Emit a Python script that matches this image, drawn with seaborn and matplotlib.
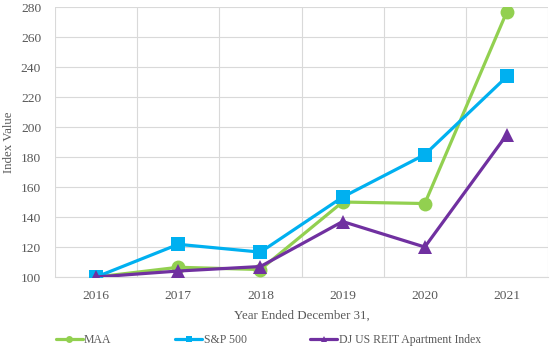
import matplotlib
matplotlib.use("Agg")
import matplotlib.pyplot as plt
import seaborn as sns
import pandas as pd
from matplotlib.lines import Line2D

years = ["2016", "2017", "2018", "2019", "2020", "2021"]
maa = [100, 106.5, 105, 150, 149, 277]
sp500 = [100, 121.8, 116.6, 153.3, 181.6, 233.7]
djreit = [100, 104, 107, 137, 120, 195]
series_names = ["MAA", "S&P 500", "DJ US REIT Apartment Index"]
colors = ["#92D050", "#00B0F0", "#7030A0"]
markers = ["o", "s", "^"]
yticks = [100, 120, 140, 160, 180, 200, 220, 240, 260, 280]

sns.set_style("white")
plt.rcParams["font.family"] = ["Liberation Serif", "DejaVu Serif"]
text_color = "#595959"

rows = []
for name, vals in zip(series_names, [maa, sp500, djreit]):
    for i, (y, v) in enumerate(zip(years, vals)):
        rows.append({"pos": i, "year": y, "value": v, "series": name})
df = pd.DataFrame(rows)

fig = plt.figure(figsize=(5.53, 3.52), dpi=100)
ax = fig.add_axes([0.0995, 0.213, 0.8915, 0.767])

msizes = {"MAA": 10, "S&P 500": 9.5, "DJ US REIT Apartment Index": 10}
for name, c, m in zip(series_names, colors, markers):
    sub = df[df.series == name]
    sns.lineplot(data=sub, x="pos", y="value", ax=ax, color=c, marker=m,
                 markersize=msizes[name], markeredgewidth=0, linewidth=2.3,
                 legend=False, zorder=3)

ax.set_xlim(-0.5, 5.5)
ax.set_ylim(100, 280)
ax.set_yticks(yticks)
ax.set_xticks(range(len(years)))
ax.set_xticklabels(years)
ax.set_xticks([i - 0.5 for i in range(len(years) + 1)], minor=True)
ax.grid(True, axis="y", which="major", color="#D9D9D9", linewidth=0.8)
ax.grid(True, axis="x", which="minor", color="#D9D9D9", linewidth=0.8)
ax.grid(False, axis="x", which="major")
ax.tick_params(axis="both", which="both", length=0, colors=text_color, labelsize=9.7)
ax.tick_params(axis="y", pad=10)
ax.tick_params(axis="x", pad=9)
for s in ["top", "right", "left"]:
    ax.spines[s].set_visible(False)
ax.spines["bottom"].set_color("#D9D9D9")
ax.set_xlabel("Year Ended December 31,", color=text_color, fontsize=9.3, labelpad=6)
ax.set_ylabel("Index Value", color=text_color, fontsize=9.3, labelpad=4)

handles = [Line2D([0], [0], color=c, marker=m, markersize=5, linewidth=2.3, markeredgewidth=0)
           for c, m in zip(colors, markers)]
leg = fig.legend(handles, series_names, loc="center", bbox_to_anchor=(0.485, 0.034),
                 ncol=3, frameon=False, fontsize=8.5, handlelength=2.3, handletextpad=0.1,
                 columnspacing=5.4, borderpad=0, borderaxespad=0)
for t in leg.get_texts():
    t.set_color(text_color)

fig.savefig("out.png", dpi=100)
